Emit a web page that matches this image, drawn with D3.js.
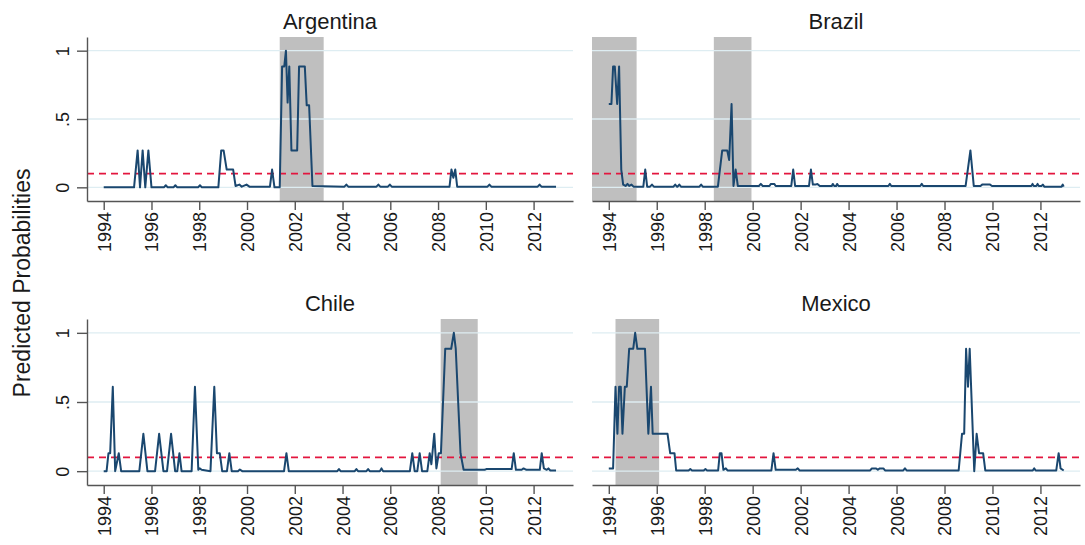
<!DOCTYPE html>
<html>
<head>
<meta charset="utf-8">
<script src="https://cdn.jsdelivr.net/npm/d3@7"></script>
<style>
  body { margin: 0; background: #fff; }
  text { font-family: "Liberation Sans", Arial, sans-serif; fill: #1a1a1a; }
</style>
</head>
<body>
<script>
/*******************************************************
 *                 CHART DATA                           *
 ******************************************************/

var xTicks = [1994, 1996, 1998, 2000, 2002, 2004, 2006, 2008, 2010, 2012];
var yTicks = [0, 0.5, 1];
var yTickLabels = ["0", ".5", "1"];
var threshold = 0.1;

// Argentina
var argDates = [1994.00,1995.27,1995.42,1995.52,1995.63,1995.74,1995.87,1996.00,1996.52,1996.60,1996.68,1996.92,1997.00,1997.08,
  1997.95,1998.03,1998.11,1998.80,1998.92,1999.02,1999.15,1999.42,1999.52,1999.68,1999.78,1999.98,2000.10,2000.96,2001.05,2001.15,
  2001.37,2001.47,2001.56,2001.63,2001.70,2001.77,2001.86,2002.10,2002.18,2002.42,2002.50,2002.60,2002.74,2004.08,2004.16,2004.24,
  2005.42,2005.50,2005.58,2005.90,2005.98,2006.06,2008.48,2008.56,2008.64,2008.72,2008.80,2010.07,2010.15,2010.23,2012.17,2012.25,
  2012.33,2012.94];
var argProbs = [0,0,.27,0,.27,0,.27,0,0,.015,0,0,.015,0,
  0,.015,0,0,.27,.27,.13,.13,.01,.02,.005,.02,.005,.005,.13,0,
  0,.885,.885,1,.62,.885,.27,.27,.885,.885,.6,.6,.01,.005,.02,.005,
  .005,.02,.005,.005,.02,.005,.005,.13,.07,.13,.005,.005,.02,.005,.005,.02,
  .005,.005];
var argCrises = [[2001.37, 2003.21]];

// Brazil
var braDates = [1994.00,1994.11,1994.18,1994.25,1994.35,1994.43,1994.52,1994.60,1994.70,1994.78,1994.85,1994.95,1995.03,1995.44,
  1995.52,1995.60,1995.72,1995.80,1995.88,1996.70,1996.77,1996.84,1996.87,1996.94,1997.01,1997.78,1997.85,1997.92,1998.55,1998.73,
  1998.94,1999.02,1999.12,1999.20,1999.29,1999.38,2000.26,2000.34,2000.42,2000.70,2000.76,2000.90,2000.96,2001.61,2001.69,2001.77,
  2002.35,2002.43,2002.51,2002.62,2002.70,2002.80,2003.30,2003.34,2003.40,2003.48,2003.52,2003.58,2005.66,2005.72,2005.78,2006.99,
  2007.05,2007.11,2008.88,2009.08,2009.22,2009.50,2009.57,2009.90,2009.98,2011.62,2011.67,2011.72,2011.83,2011.88,2011.93,2012.04,
  2012.10,2012.16,2012.88,2012.93,2012.97];
var braProbs = [.61,.61,.885,.885,.61,.885,.13,.02,.01,.025,.01,.02,.005,.005,
  .13,.005,.005,.02,.005,.005,.02,.005,.005,.02,.005,.005,.02,.005,.005,.27,
  .27,.2,.61,.01,.13,.01,.01,.025,.01,.01,.025,.025,.01,.01,.13,.01,
  .01,.13,.02,.02,.025,.01,.01,.025,.01,.01,.025,.01,.01,.025,.01,.01,
  .025,.01,.01,.27,.01,.01,.02,.02,.01,.01,.025,.01,.01,.025,.01,.01,
  .02,.005,.005,.02,.005];
var braCrises = [[1993.3, 1995.16], [1998.38, 1999.95]];

// Chile
var chiDates = [1994.00,1994.12,1994.20,1994.27,1994.38,1994.48,1994.63,1994.73,1995.49,1995.66,1995.83,1996.15,1996.32,1996.50,
  1996.65,1996.82,1996.99,1997.08,1997.17,1997.26,1997.68,1997.82,1997.96,1998.02,1998.10,1998.47,1998.63,1998.74,1998.86,1998.96,
  1999.16,1999.26,1999.36,1999.62,1999.70,1999.80,2001.55,2001.65,2001.75,2003.78,2003.85,2003.92,2004.51,2004.58,2004.65,2005.00,
  2005.07,2005.14,2005.56,2005.63,2005.70,2006.82,2006.92,2007.02,2007.13,2007.23,2007.33,2007.55,2007.65,2007.72,2007.84,2007.93,
  2008.03,2008.12,2008.30,2008.55,2008.66,2008.74,2008.94,2009.07,2009.95,2010.02,2011.08,2011.17,2011.26,2011.50,2011.58,2011.70,
  2012.26,2012.34,2012.43,2012.55,2012.62,2012.70,2012.94];
var chiProbs = [0,0,.13,.13,.61,0,.13,0,0,.27,0,0,.27,0,
  0,.27,0,0,.13,0,0,.61,.01,.02,.01,0,.61,.13,.13,0,
  0,.13,0,0,.012,0,0,.13,0,0,.015,0,0,.015,0,0,
  .015,0,0,.02,0,0,.13,0,0,.13,0,0,.13,.05,.27,.02,
  .13,.13,.885,.885,1,.885,.13,.01,.01,.015,.015,.13,.01,.01,.02,.01,
  .01,.13,.02,.01,.02,.005,.005];
var chiCrises = [[2008.11, 2009.66]];

// Mexico
var mexDates = [1994.00,1994.18,1994.28,1994.36,1994.43,1994.50,1994.57,1994.67,1994.75,1994.85,1995.02,1995.10,1995.19,1995.51,
  1995.65,1995.76,1995.83,1996.45,1996.56,1996.74,1996.81,1997.33,1997.40,1997.47,1997.96,1998.03,1998.10,1998.56,1998.63,1998.70,
  1998.78,1998.88,1998.95,2000.78,2000.87,2000.96,2001.80,2001.88,2001.96,2004.90,2004.97,2005.15,2005.22,2005.30,2005.45,2005.52,
  2006.28,2006.35,2006.42,2008.59,2008.73,2008.82,2008.90,2008.98,2009.05,2009.24,2009.34,2009.44,2009.61,2009.70,2011.68,2011.74,
  2011.80,2012.66,2012.76,2012.84,2012.97];
var mexProbs = [.02,.02,.61,.27,.61,.61,.27,.61,.61,.885,.885,1,.885,.885,
  .27,.61,.27,.27,.13,.13,.005,.005,.015,.005,.005,.015,.005,.005,.13,.13,
  .01,.02,.005,.005,.13,.01,.01,.02,.005,.005,.02,.02,.01,.02,.02,.005,
  .005,.02,.005,.005,.27,.27,.885,.61,.885,0,.27,.13,.13,.005,.005,.02,
  .005,.005,.13,.02,.005];
var mexCrises = [[1994.28, 1996.10]];

var panels = [
  { name: "Argentina", dates: argDates, probs: argProbs, crises: argCrises, col: 0, row: 0 },
  { name: "Brazil",    dates: braDates, probs: braProbs, crises: braCrises, col: 1, row: 0 },
  { name: "Chile",     dates: chiDates, probs: chiProbs, crises: chiCrises, col: 0, row: 1 },
  { name: "Mexico",    dates: mexDates, probs: mexProbs, crises: mexCrises, col: 1, row: 1 }
];

/*******************************************************
 *                 LAYOUT                               *
 ******************************************************/
var width = 1085, height = 545;
var cols = [{ x0: 87, x1: 573 }, { x0: 592, x1: 1080 }];
var rows = [{ y0: 37, y1: 201 }, { y0: 319, y1: 485 }];

var svg = d3.select("body").append("svg")
            .attr("width", width)
            .attr("height", height);

// y axis title
svg.append("text")
   .attr("transform", "translate(30,283) rotate(-90)")
   .attr("text-anchor", "middle")
   .style("font-size", "23px")
   .text("Predicted Probabilities");

panels.forEach(function(p) {
    var c = cols[p.col], r = rows[p.row];

    var x = d3.scaleLinear()
              .domain([1993.3, 2013.65])
              .range([c.x0, c.x1]);

    var y = d3.scaleLinear()
              .domain([-0.1, 1.1])
              .range([r.y1, r.y0]);

    var g = svg.append("g");

    // crisis shading
    g.selectAll("rect.crisis")
     .data(p.crises)
     .enter().append("rect")
     .attr("class", "crisis")
     .attr("x", function(d) { return x(d[0]); })
     .attr("width", function(d) { return x(d[1]) - x(d[0]); })
     .attr("y", r.y0)
     .attr("height", r.y1 - r.y0)
     .attr("fill", "#bfbfbf");

    // gridlines
    g.selectAll("line.grid")
     .data(yTicks)
     .enter().append("line")
     .attr("x1", c.x0).attr("x2", c.x1)
     .attr("y1", function(d) { return y(d); })
     .attr("y2", function(d) { return y(d); })
     .attr("stroke", "#deedf2")
     .attr("stroke-width", 1.4);

    // threshold
    g.append("line")
     .attr("x1", c.x0).attr("x2", c.x1)
     .attr("y1", y(threshold)).attr("y2", y(threshold))
     .attr("stroke", "#e3163f")
     .attr("stroke-width", 1.8)
     .attr("stroke-dasharray", "7,5");

    // series
    var line = d3.line()
                 .x(function(d, i) { return x(p.dates[i]); })
                 .y(function(d) { return y(d); });

    g.append("path")
     .datum(p.probs)
     .attr("d", line)
     .attr("fill", "none")
     .attr("stroke", "#1a476f")
     .attr("stroke-width", 2)
     .attr("stroke-linejoin", "round");

    // x axis
    var xAxis = g.append("g")
                 .attr("transform", "translate(0," + r.y1 + ")")
                 .call(d3.axisBottom(x)
                   .tickValues(xTicks)
                   .tickFormat(d3.format("d"))
                   .tickSize(9)
                   .tickSizeOuter(0));
    xAxis.select(".domain").attr("stroke", "#555").attr("stroke-width", 1.4);
    xAxis.selectAll(".tick line").attr("stroke", "#555").attr("stroke-width", 1.4);
    xAxis.selectAll(".tick text")
         .attr("transform", "rotate(-90)")
         .attr("text-anchor", "end")
         .attr("x", -11)
         .attr("y", 0)
         .attr("dy", "0.36em")
         .style("font-size", "18px")
         .style("font-family", "Liberation Sans, Arial, sans-serif")
         .attr("fill", "#1a1a1a");

    // y axis only on the left column
    if (p.col == 0) {
      var yAxis = g.append("g")
                   .attr("transform", "translate(" + c.x0 + ",0)")
                   .call(d3.axisLeft(y)
                     .tickValues(yTicks)
                     .tickFormat(function(d, i) { return yTickLabels[i]; })
                     .tickSize(10)
                     .tickSizeOuter(0));
      yAxis.select(".domain").attr("stroke", "#555").attr("stroke-width", 1.4);
      yAxis.selectAll(".tick line").attr("stroke", "#555").attr("stroke-width", 1.4);
      yAxis.selectAll(".tick text")
           .attr("transform", "rotate(-90)")
           .attr("text-anchor", "middle")
           .attr("x", 0)
           .attr("y", -24)
           .attr("dy", "0.36em")
           .style("font-size", "18px")
           .style("font-family", "Liberation Sans, Arial, sans-serif")
           .attr("fill", "#1a1a1a");
    }

    // panel title
    svg.append("text")
       .attr("x", (c.x0 + c.x1) / 2)
       .attr("y", r.y0 - 8)
       .attr("text-anchor", "middle")
       .style("font-size", "22px")
       .text(p.name);
});
</script>
</body>
</html>
